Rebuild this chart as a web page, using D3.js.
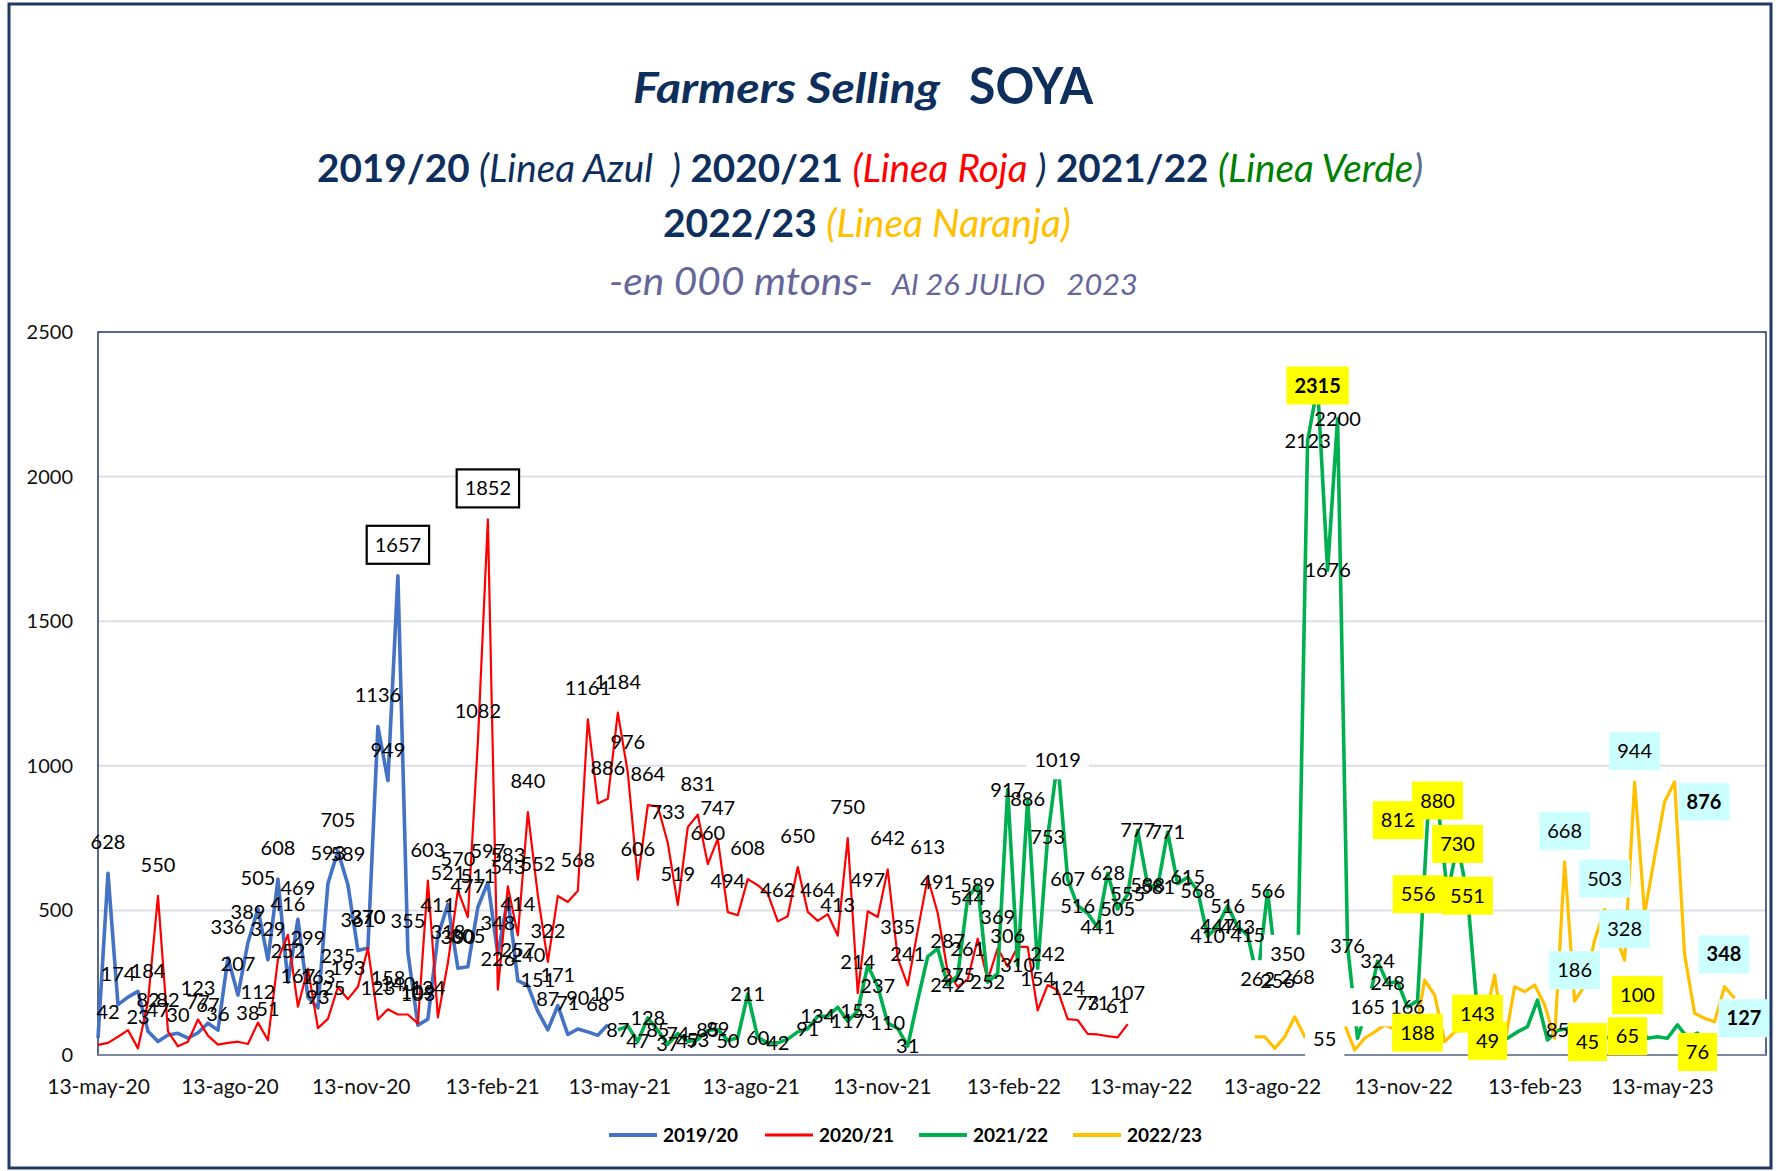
<!DOCTYPE html>
<html lang="es">
<head>
<meta charset="utf-8">
<title>Farmers Selling SOYA</title>
<script src="https://cdn.jsdelivr.net/npm/d3@7"></script>
<style>
body { margin: 0; background: #fff; }
text { font-family: Lato, "Open Sans", sans-serif; }
</style>
</head>
<body>
<script>
// weekly values, one per week from each start date (000 t)
var blueStart = "2020-05-13";
var blueValues = [58, 628, 174, 200, 220, 82, 47, 69, 75, 58, 77, 110, 86, 336, 207, 389, 505, 329, 608, 252,
    469, 200, 163, 593, 705, 589, 361, 370, 1136, 949, 1657, 355, 103, 124, 411, 521, 300, 305, 511, 597,
    348, 543, 257, 240, 151, 87, 171, 71, 90, 80, 68, 105];

var redStart = "2020-05-13";
var redValues = [35, 42, 63, 86, 23, 184, 550, 82, 30, 46, 123, 67, 36, 42, 46, 38, 112, 51, 330, 416,
    167, 299, 93, 125, 235, 193, 236, 370, 123, 158, 140, 140, 109, 603, 130, 318, 570, 477, 1082, 1852,
    226, 583, 414, 840, 552, 322, 550, 529, 568, 1161, 870, 886, 1184, 976, 606, 864, 860, 733, 519, 788,
    831, 660, 747, 494, 483, 608, 587, 558, 462, 480, 650, 495, 464, 487, 413, 750, 214, 497, 477, 642,
    335, 241, 430, 613, 491, 287, 236, 261, 402, 259, 369, 306, 374, 374, 154, 242, 224, 124, 121, 73,
    71, 65, 61, 107];

var greenStart = "2021-05-12";
var greenValues = [87, 100, 47, 128, 85, 37, 74, 47, 53, 85, 89, 50, 60, 211, 60, 42, 42, 55, 80, 91,
    134, 134, 165, 117, 153, 310, 237, 110, 92, 31, 190, 340, 368, 242, 275, 544, 589, 252, 282, 917,
    310, 886, 300, 753, 1019, 607, 516, 490, 441, 628, 505, 555, 777, 588, 581, 771, 592, 615, 568, 410,
    447, 516, 443, 415, 262, 566, 256, 350, 268, 2123, 2315, 1676, 2200, 376, 58, 165, 324, 248, 253, 166,
    188, 812, 880, 556, 730, 551, 143, 49, 50, 58, 80, 98, 190, 52, 85, 92, 70, 45, 55, 60,
    60, 65, 100, 58, 63, 58, 104, 60, 76, 10];

var orangeStart = "2022-08-01";
var orangeValues = [63, 63, 23, 63, 132, 63, 50, 55, 80, 104, 17, 58, 80, 104, 90, 110, 63, 259, 207, 46,
    80, 92, 120, 120, 276, 40, 236, 219, 242, 173, 58, 668, 186, 240, 397, 503, 420, 328, 944, 489,
    685, 876, 944, 348, 144, 127, 115, 236, 196];

// which points carry a data label
var blueLabelIdx = [1, 2, 5, 6, 10, 13, 14, 15, 16, 17, 18, 19, 20, 22, 23, 24, 25, 26, 27, 28, 29, 30, 31,
    32, 33, 34, 35, 36, 37, 38, 39, 40, 41, 42, 43, 44, 45, 46, 47, 48, 50, 51];
var redLabelIdx = [1, 4, 5, 6, 7, 8, 10, 11, 12, 15, 16, 17, 19, 20, 21, 22, 23, 24, 25, 27, 28, 29, 30, 32,
    33, 35, 36, 37, 38, 39, 40, 41, 42, 43, 44, 45, 48, 49, 51, 52, 53, 54, 55, 57, 58, 60, 61, 62, 63, 65,
    68, 70, 72, 74, 75, 76, 77, 79, 80, 81, 83, 84, 85, 87, 90, 91, 94, 95, 97, 99, 100, 102, 103];
var greenLabelIdx = [0, 2, 3, 4, 5, 6, 7, 8, 9, 10, 11, 13, 14, 16, 19, 20, 23, 24, 26, 27, 29, 33, 34, 35,
    36, 37, 39, 40, 41, 43, 44, 45, 46, 48, 49, 50, 51, 52, 53, 54, 55, 57, 58, 59, 60, 61, 62, 63, 64,
    65, 66, 67, 68, 69, 70, 71, 72, 73, 75, 76, 77, 79, 80, 81, 82, 83, 84, 85, 86, 87, 94, 97, 101, 102, 108];
var orangeLabelIdx = [7, 31, 32, 35, 37, 38, 41, 43, 45];

var seriesNames = ["2019/20", "2020/21", "2021/22", "2022/23"];
var tickDates = ["2020-05-13", "2020-08-13", "2020-11-13", "2021-02-13", "2021-05-13", "2021-08-13",
    "2021-11-13", "2022-02-13", "2022-05-13", "2022-08-13", "2022-11-13", "2023-02-13", "2023-05-13"];
var yTicks = [0, 500, 1000, 1500, 2000, 2500];
var meses = ["ene", "feb", "mar", "abr", "may", "jun", "jul", "ago", "sep", "oct", "nov", "dic"];

// label look (position / box) for particular points
var YEL = "#FFFF00", CYAN = "#CCFFFF";
var labelStyle = {
    "b:30": { fill: "#fff", border: true },
    "r:39": { fill: "#fff", border: true },
    "g:44": { blank: true },
    "g:64": { blank: true }, "g:66": { blank: true }, "g:67": { blank: true }, "g:68": { blank: true },
    "g:75": { blank: true },
    "g:70": { fill: YEL, bold: true },
    "g:80": { fill: YEL, pos: "below" },
    "g:81": { fill: YEL, pos: "left" },
    "g:82": { fill: YEL }, "g:83": { fill: YEL, pos: "left" }, "g:84": { fill: YEL },
    "g:85": { fill: YEL }, "g:86": { fill: YEL }, "g:87": { fill: YEL },
    "g:97": { fill: YEL }, "g:101": { fill: YEL }, "g:102": { fill: YEL, pos: "above" },
    "g:108": { fill: YEL, dy: 19 },
    "o:7": { blank: true, pos: "center" },
    "o:31": { fill: CYAN }, "o:32": { fill: CYAN }, "o:35": { fill: CYAN },
    "o:37": { fill: CYAN }, "o:38": { fill: CYAN },
    "o:41": { fill: CYAN, bold: true, pos: "right" },
    "o:43": { fill: CYAN, bold: true, pos: "right" },
    "o:45": { fill: CYAN, bold: true, pos: "right" }
};

var W = 1778, H = 1171;
var NAVY = "#0E2F5C";
var parse = d3.timeParse("%Y-%m-%d");

function weekly(start, values) {
    var s = parse(start);
    return values.map(function(v, k) {
        return { date: d3.timeDay.offset(s, 7 * k), value: v, k: k };
    });
}

var series = [
    { key: "b", name: seriesNames[0], color: "#4472C4", width: 3.6, pts: weekly(blueStart, blueValues), labels: blueLabelIdx, pos: "above" },
    { key: "r", name: seriesNames[1], color: "#FF0000", width: 2.2, pts: weekly(redStart, redValues), labels: redLabelIdx, pos: "above" },
    { key: "g", name: seriesNames[2], color: "#00B050", width: 3.6, pts: weekly(greenStart, greenValues), labels: greenLabelIdx, pos: "center" },
    { key: "o", name: seriesNames[3], color: "#FFC000", width: 3.2, pts: weekly(orangeStart, orangeValues), labels: orangeLabelIdx, pos: "above" }
];

var svg = d3.select("body").append("svg").attr("width", W).attr("height", H);
svg.append("rect").attr("width", W).attr("height", H).attr("fill", "#fff");

var x = d3.scaleTime().domain([parse("2020-05-13"), parse("2023-07-25")]).range([98, 1766]);
var y = d3.scaleLinear().domain([0, 2500]).range([1055, 332]);

// gridlines
svg.append("g").selectAll("line").data(yTicks.slice(1, -1)).enter().append("line")
    .attr("x1", 98).attr("x2", 1766)
    .attr("y1", function(d) { return y(d); }).attr("y2", function(d) { return y(d); })
    .attr("stroke", "#DCDFE6").attr("stroke-width", 2);

// plot area border
svg.append("rect").attr("x", 98).attr("y", 332).attr("width", 1668).attr("height", 723)
    .attr("fill", "none").attr("stroke", "#1F3864").attr("stroke-width", 1.5);
svg.append("line").attr("x1", 98).attr("x2", 1766).attr("y1", 1055).attr("y2", 1055)
    .attr("stroke", "#8C95A8").attr("stroke-width", 1.5);

// axes
var fmt = function(d) { return d.getDate() + "-" + meses[d.getMonth()] + "-" + String(d.getFullYear()).slice(2); };
var xAxis = svg.append("g").attr("transform", "translate(0,1055)")
    .call(d3.axisBottom(x).tickValues(tickDates.map(parse)).tickFormat(fmt).tickSize(0).tickPadding(24));
var yAxis = svg.append("g").attr("transform", "translate(98,0)")
    .call(d3.axisLeft(y).tickValues(yTicks).tickFormat(d3.format("d")).tickSize(0).tickPadding(25));
[xAxis, yAxis].forEach(function(a) {
    a.select(".domain").remove();
    a.selectAll("text").attr("font-family", "Lato, sans-serif").attr("fill", "#111");
});
xAxis.selectAll("text").attr("font-size", 21);
yAxis.selectAll("text").attr("font-size", 20);

// lines
var line = d3.line()
    .defined(function(d) { return d.value != null; })
    .x(function(d) { return x(d.date); })
    .y(function(d) { return y(d.value); });

series.forEach(function(s) {
    svg.append("path").datum(s.pts)
        .attr("fill", "none").attr("stroke", s.color).attr("stroke-width", s.width)
        .attr("stroke-linejoin", "round").attr("d", line);
});

// data labels: white blanking boxes sit under every label text
var blankLayer = svg.append("g");
var labelLayer = svg.append("g");
series.forEach(function(s) {
    s.labels.forEach(function(k) {
        var p = s.pts[k];
        var st = labelStyle[s.key + ":" + k] || {};
        var pos = st.pos || s.pos;
        var px = x(p.date), py = y(p.value);
        var g = labelLayer.append("g");
        var t = g.append("text").text(p.value)
            .attr("font-size", 20).attr("font-weight", st.bold ? 700 : 400)
            .attr("fill", "#000").attr("text-anchor", "middle").attr("dy", "0.35em");
        var w = t.node().getComputedTextLength() + 16, h = 38;
        var cx = px, cy = py;
        if (pos === "above") cy = py - 31;
        if (pos === "below") cy = py + 32;
        if (pos === "left") cx = px - 4 - w / 2;
        if (pos === "right") cx = px + 14 + w / 2;
        if (st.dy) cy += st.dy;
        t.attr("x", cx).attr("y", cy);
        if (st.blank) {
            blankLayer.append("rect")
                .attr("x", cx - w / 2).attr("y", cy - h / 2).attr("width", w).attr("height", h)
                .attr("fill", "#fff");
        }
        if (st.fill) {
            g.insert("rect", "text")
                .attr("x", cx - w / 2).attr("y", cy - h / 2).attr("width", w).attr("height", h)
                .attr("fill", st.fill)
                .attr("stroke", st.border ? "#000" : "none").attr("stroke-width", 2.2);
        }
    });
});

// title block, each piece squeezed to its width in the original
function fitText(parts, x0, x1, base, size) {
    var t = svg.append("text").attr("x", 0).attr("y", 0).attr("font-size", size)
        .style("white-space", "pre");
    parts.forEach(function(p) {
        t.append("tspan").text(p[0]).attr("fill", p[1])
            .attr("font-weight", p[2] ? 700 : 400).attr("font-style", p[3] ? "italic" : "normal");
    });
    var w = t.node().getBBox().width;
    t.attr("transform", "translate(" + x0 + "," + base + ") scale(" + ((x1 - x0) / w) + ",1)");
}
var GRAY = "#66669A";
fitText([["Farmers Selling", NAVY, 1, 1]], 633, 941, 103, 42);
fitText([["SOYA", NAVY, 1, 0]], 969, 1094, 104, 52);
fitText([
    ["2019/20 ", NAVY, 1, 0], ["(Linea Azul  )", NAVY, 0, 1], [" 2020/21 ", NAVY, 1, 0],
    ["(Linea Roja", "#FF0000", 0, 1], [" )", NAVY, 0, 1], [" 2021/22 ", NAVY, 1, 0],
    ["(Linea Verde", "#008000", 0, 1], [")", "#5A6E90", 0, 1]
], 317, 1423, 182, 39);
fitText([["2022/23 ", NAVY, 1, 0], ["(Linea Naranja)", "#FFC000", 0, 1]], 663, 1071, 237, 39);
fitText([["-en 000 mtons-", GRAY, 0, 1]], 609, 873, 295, 38);
fitText([["Al 26 JULIO   2023", GRAY, 0, 1]], 892, 1139, 295, 28);

// legend
var legX = [609, 765, 919, 1073];
series.forEach(function(s, i) {
    svg.append("line").attr("x1", legX[i]).attr("x2", legX[i] + 48).attr("y1", 1135).attr("y2", 1135)
        .attr("stroke", s.color).attr("stroke-width", s.key === "r" ? 3 : 4.2);
    svg.append("text").attr("x", legX[i] + 54).attr("y", 1142).text(s.name)
        .attr("font-size", 19).attr("font-weight", 700).attr("fill", "#000");
});

// outer frame
svg.append("rect").attr("x", 9).attr("y", 4).attr("width", 1762).attr("height", 1164)
    .attr("fill", "none").attr("stroke", "#1F3864").attr("stroke-width", 3);
</script>
</body>
</html>
